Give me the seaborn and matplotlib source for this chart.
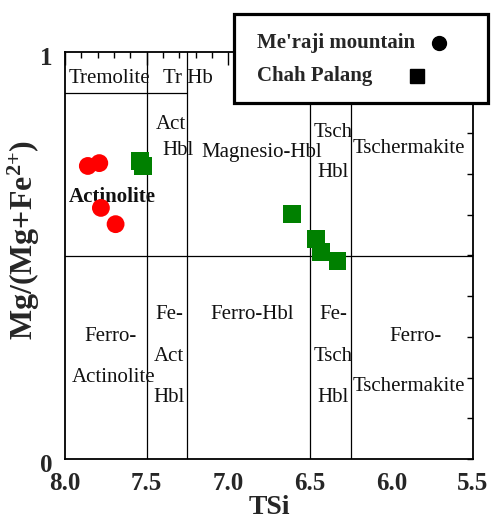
import numpy as np
import pandas as pd
import matplotlib
matplotlib.use("Agg")
import matplotlib.pyplot as plt
import matplotlib.transforms as mtransforms
import seaborn as sns
from matplotlib.ticker import MultipleLocator, FixedLocator
from matplotlib.patches import Rectangle
from matplotlib.lines import Line2D

# ---------------- data ----------------
meraji_tsi = [7.86, 7.79, 7.78, 7.69]
meraji_mg = [0.720, 0.727, 0.617, 0.577]
chah_tsi = [7.54, 7.52, 6.61, 6.46, 6.43, 6.33]
chah_mg = [0.732, 0.720, 0.602, 0.541, 0.509, 0.486]

series_names = ["Me'raji mountain", "Chah Palang"]
series_colors = ["#ff0000", "#008000"]
series_markers = ["o", "s"]

x_ticks = [8.0, 7.5, 7.0, 6.5, 6.0, 5.5]
x_ticklabels = ["8.0", "7.5", "7.0", "6.5", "6.0", "5.5"]
y_ticks = [0, 1]
y_ticklabels = ["0", "1"]

# diagram field boundaries
tsi_boundaries = [7.5, 7.25, 6.5, 6.25]
mg_boundary = 0.5
tremolite_boundary = 0.9
tremolite_tsi_range = [8.0, 7.25]

# field names: (text, TSi, Mg ratio, bold)
field_labels = [
    ("Tremolite", 7.73, 0.936, False),
    ("Tr Hb", 7.246, 0.936, False),
    ("Act", 7.35, 0.821, False),
    ("Hbl", 7.308, 0.759, False),
    ("Magnesio-Hbl", 6.793, 0.754, False),
    ("Tsch", 6.358, 0.803, False),
    ("Hbl", 6.358, 0.705, False),
    ("Tschermakite", 5.892, 0.762, False),
    ("Actinolite", 7.712, 0.644, True),
    ("Ferro-", 7.724, 0.302, False),
    ("Actinolite", 7.70, 0.201, False),
    ("Fe-", 7.363, 0.354, False),
    ("Act", 7.363, 0.253, False),
    ("Hbl", 7.363, 0.152, False),
    ("Ferro-Hbl", 6.854, 0.354, False),
    ("Fe-", 6.358, 0.354, False),
    ("Tsch", 6.358, 0.253, False),
    ("Hbl", 6.358, 0.152, False),
    ("Ferro-", 5.855, 0.302, False),
    ("Tschermakite", 5.892, 0.179, False),
]

df = pd.DataFrame({
    "TSi": meraji_tsi + chah_tsi,
    "Mg": meraji_mg + chah_mg,
    "site": [series_names[0]] * len(meraji_tsi) + [series_names[1]] * len(chah_tsi),
})

# ---------------- style ----------------
sns.set_style("white")
plt.rcParams["font.family"] = ["Liberation Serif", "DejaVu Serif"]
plt.rcParams["mathtext.fontset"] = "custom"
plt.rcParams["mathtext.rm"] = "Liberation Serif"
plt.rcParams["mathtext.bf"] = "Liberation Serif:bold"
plt.rcParams["mathtext.it"] = "Liberation Serif:italic"

fig = plt.figure(figsize=(4.92, 5.2), dpi=100)
ax = fig.add_axes([65 / 492, 61 / 520, 408 / 492, 407 / 520])

sns.scatterplot(
    data=df, x="TSi", y="Mg", hue="site", style="site",
    palette=dict(zip(series_names, series_colors)),
    markers=dict(zip(series_names, series_markers)),
    s=165, linewidth=0, legend=False, ax=ax, zorder=5,
)

# field boundaries
for b in tsi_boundaries:
    ax.axvline(b, color="black", lw=0.9, zorder=2)
ax.axhline(mg_boundary, color="black", lw=0.9, zorder=2)
ax.plot(tremolite_tsi_range, [tremolite_boundary] * 2, color="black", lw=0.9, zorder=2)

for txt, x, y, bold in field_labels:
    ax.text(x, y, txt, ha="center", va="center", fontsize=15,
            fontweight="bold" if bold else "normal", color="#111111", zorder=4)

ax.set_xlim(8.0, 5.5)
ax.set_ylim(0, 1)
ax.xaxis.set_major_locator(FixedLocator(x_ticks))
ax.set_xticklabels(x_ticklabels)
ax.xaxis.set_minor_locator(MultipleLocator(0.1))
ax.yaxis.set_major_locator(FixedLocator(y_ticks))
ax.set_yticklabels(y_ticklabels)
ax.yaxis.set_minor_locator(MultipleLocator(0.1))

ax.tick_params(axis="both", which="both", direction="in", top=True, right=True,
               width=1.0, color="black")
ax.tick_params(axis="x", which="major", length=9, pad=9)
ax.tick_params(axis="x", which="minor", length=4.5)
ax.tick_params(axis="y", which="both", length=4.5, pad=9)
for lbl in ax.get_xticklabels() + ax.get_yticklabels():
    lbl.set_fontsize(18)
    lbl.set_fontweight("bold")
offset = mtransforms.ScaledTranslation(0, -3 / 72, fig.dpi_scale_trans)
for lbl in ax.get_yticklabels():
    lbl.set_transform(lbl.get_transform() + offset)

for sp in ax.spines.values():
    sp.set_linewidth(1.3)
    sp.set_color("black")

ax.set_xlabel("TSi", fontsize=20, fontweight="bold", labelpad=0.5)
ax.set_ylabel(r"Mg/(Mg+Fe$^{\mathbf{2{+}}}$)", fontsize=23, fontweight="bold")
ax.yaxis.set_label_coords(-0.056, 0.538)

# ---------------- legend box (manual) ----------------
W, H = 492, 520
fig.add_artist(Rectangle((234 / W, 1 - 103 / H), 254 / W, 89 / H,
                         transform=fig.transFigure, facecolor="white",
                         edgecolor="black", linewidth=2.3, zorder=10))
fig.text(257 / W, 1 - 43 / H, series_names[0], fontsize=15, fontweight="bold",
         ha="left", va="center", zorder=11)
fig.text(257 / W, 1 - 76 / H, series_names[1], fontsize=15, fontweight="bold",
         ha="left", va="center", zorder=11)
fig.add_artist(Line2D([439 / W], [1 - 43 / H], marker="o", markersize=10,
                      color="black", linestyle="none", transform=fig.transFigure, zorder=12))
fig.add_artist(Line2D([417 / W], [1 - 76 / H], marker="s", markersize=9.5,
                      color="black", linestyle="none", transform=fig.transFigure, zorder=12))

fig.savefig("out.png", dpi=100)
